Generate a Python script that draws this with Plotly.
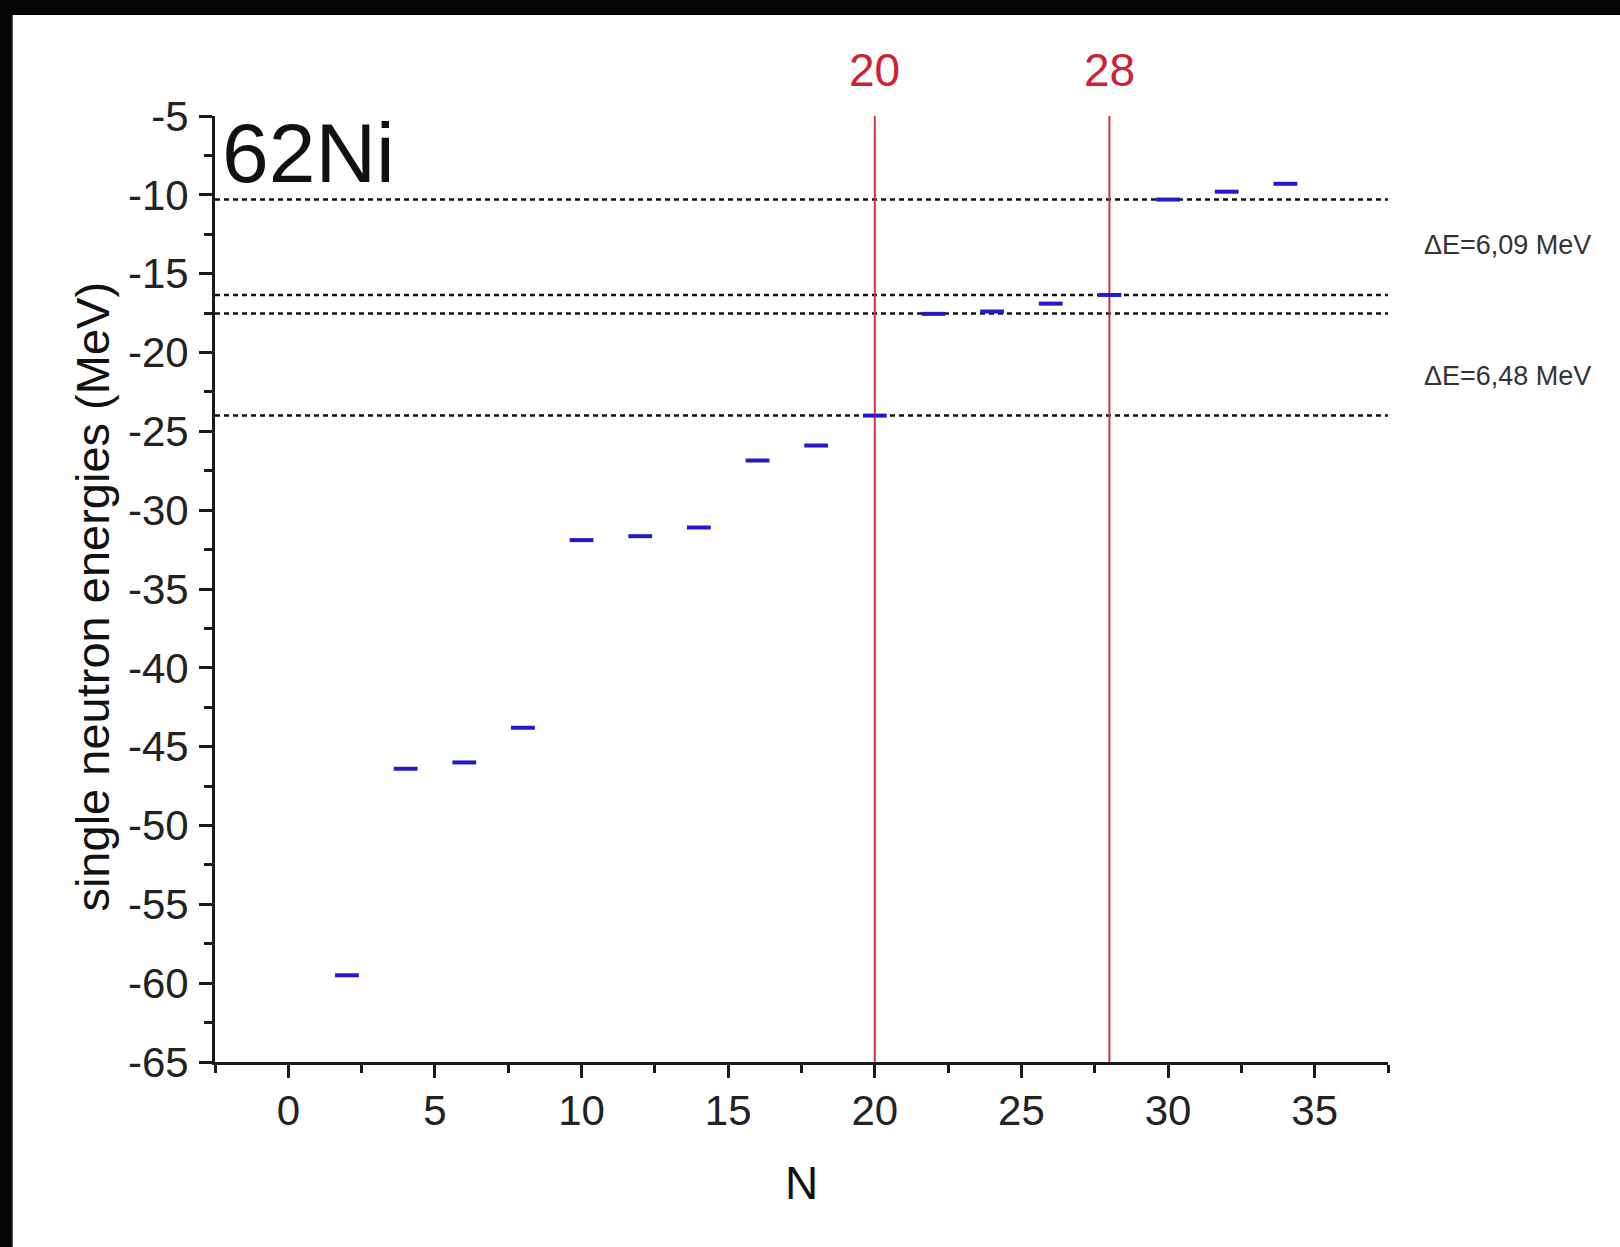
import plotly.graph_objects as go

# ---- data ----
N_levels = [2, 4, 6, 8, 10, 12, 14, 16, 18, 20, 22, 24, 26, 28, 30, 32, 34]
E_levels = [-59.5, -46.4, -46.0, -43.8, -31.9, -31.65, -31.1, -26.85, -25.9,
            -24.0, -17.55, -17.4, -16.9, -16.35, -10.3, -9.8, -9.3]
gap_lines = [-10.3, -16.35, -17.52, -24.0]
magic_numbers = [20, 28]
magic_labels = ["20", "28"]
delta_labels = ["\u0394E=6,09 MeV", "\u0394E=6,48 MeV"]
delta_y = [-13.2, -21.5]
x_ticks = [0, 5, 10, 15, 20, 25, 30, 35]
x_ticktext = ["0", "5", "10", "15", "20", "25", "30", "35"]
y_ticks = [-65, -60, -55, -50, -45, -40, -35, -30, -25, -20, -15, -10, -5]
y_ticktext = ["-65", "-60", "-55", "-50", "-45", "-40", "-35", "-30", "-25",
              "-20", "-15", "-10", "-5"]
x_range = [-2.5, 37.5]
y_range = [-65, -5]

FONT = "Liberation Sans, Arial, sans-serif"
AX = "#1a1a1a"

fig = go.Figure()

for g in gap_lines:
    fig.add_trace(go.Scatter(x=x_range, y=[g, g], mode="lines",
                             line=dict(color="#111111", width=2.5, dash="5px,4px"),
                             hoverinfo="skip", showlegend=False))

for m in magic_numbers:
    fig.add_trace(go.Scatter(x=[m, m], y=y_range, mode="lines",
                             line=dict(color="#cc3344", width=2),
                             hoverinfo="skip", showlegend=False))

fig.add_trace(go.Scatter(x=N_levels, y=E_levels, mode="markers",
                         marker=dict(symbol="line-ew", size=17,
                                     line=dict(color="#2418c8", width=4)),
                         showlegend=False))

annotations = []
for m, lab in zip(magic_numbers, magic_labels):
    annotations.append(dict(x=m, y=1.049, xref="x", yref="paper", text=lab,
                            showarrow=False, xanchor="center", yanchor="middle",
                            font=dict(family=FONT, size=46, color="#cc2233")))
for lab, yv in zip(delta_labels, delta_y):
    annotations.append(dict(x=1.1015, y=yv, xref="paper", yref="y", text=lab,
                            showarrow=False, xanchor="center", yanchor="middle",
                            font=dict(family=FONT, size=27, color="#333333")))
annotations.append(dict(x=0.004, y=0.961, xref="paper", yref="paper", text="62Ni",
                        showarrow=False, xanchor="left", yanchor="middle",
                        font=dict(family=FONT, size=84, color="#111111")))
annotations.append(dict(x=0.5, y=-0.128, xref="paper", yref="paper", text="N",
                        showarrow=False, xanchor="center", yanchor="middle",
                        font=dict(family=FONT, size=46, color="#111111")))
annotations.append(dict(x=-0.104, y=0.492, xref="paper", yref="paper",
                        text="single neutron energies (MeV)", textangle=-90,
                        showarrow=False, xanchor="center", yanchor="middle",
                        font=dict(family=FONT, size=47, color="#111111")))

# slide frame (black border at top and left)
shapes = [
    dict(type="rect", xref="paper", yref="paper", x0=-0.19, x1=-0.1725,
         y0=-0.25, y1=1.13, fillcolor="#050505", line=dict(width=0), layer="above"),
    dict(type="rect", xref="paper", yref="paper", x0=-0.19, x1=1.2,
         y0=1.1068, y1=1.13, fillcolor="#050505", line=dict(width=0), layer="above"),
]

fig.update_layout(
    width=1620, height=1247,
    margin=dict(l=215, r=232, t=116, b=185),
    paper_bgcolor="white", plot_bgcolor="white",
    annotations=annotations, shapes=shapes,
    font=dict(family=FONT, color="#111111"),
    xaxis=dict(range=x_range, showgrid=False, zeroline=False,
               showline=True, linecolor=AX, linewidth=3,
               ticks="outside", ticklen=13, tickwidth=3, tickcolor=AX,
               tickmode="array", tickvals=x_ticks, ticktext=x_ticktext,
               tickfont=dict(family=FONT, size=42, color="#222222"),
               ticklabelstandoff=-3,
               minor=dict(ticks="outside", ticklen=8, tickwidth=3, tickcolor=AX,
                          tick0=-2.5, dtick=5, showgrid=False)),
    yaxis=dict(range=y_range, showgrid=False, zeroline=False,
               showline=True, linecolor=AX, linewidth=3,
               ticks="outside", ticklen=13, tickwidth=3, tickcolor=AX,
               tickmode="array", tickvals=y_ticks, ticktext=y_ticktext,
               tickfont=dict(family=FONT, size=42, color="#222222"),
               ticklabelstandoff=2,
               minor=dict(ticks="outside", ticklen=8, tickwidth=3, tickcolor=AX,
                          tick0=-7.5, dtick=5, showgrid=False)),
)

fig.write_html("out.html")
